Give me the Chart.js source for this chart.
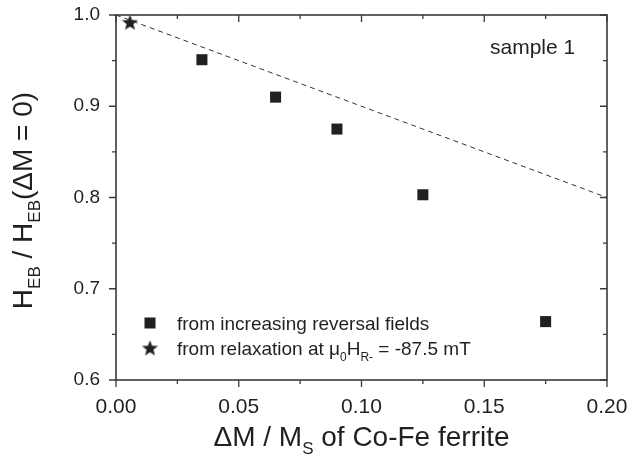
<!DOCTYPE html>
<html>
<head>
<meta charset="utf-8">
<script src="https://cdn.jsdelivr.net/npm/chart.js@4.4.1/dist/chart.umd.min.js"></script>
<style>
  html, body { margin: 0; padding: 0; background: #ffffff; }
  #wrap { width: 629px; height: 466px; }
</style>
</head>
<body>
<div id="wrap"><canvas id="c" width="629" height="466"></canvas></div>
<script>
// Exchange-bias ratio versus relative magnetisation change of the Co-Fe ferrite
const reversalX = [0.035, 0.065, 0.090, 0.125, 0.175];
const reversalY = [0.951, 0.910, 0.875, 0.803, 0.664];
const relaxX = [0.0057];
const relaxY = [0.992];
const guideX = [0.0, 0.20];
const guideY = [1.0, 0.80];
const xTicks = [0.00, 0.05, 0.10, 0.15, 0.20];
const yTicks = [0.6, 0.7, 0.8, 0.9, 1.0];

const INK = '#231f20';
const FONT = '"Liberation Sans", Arial, Helvetica, sans-serif';

// filled five-pointed star used as a point style
function makeStar(size, color) {
  const cv = document.createElement('canvas');
  cv.width = size; cv.height = size;
  const g = cv.getContext('2d');
  const cx = size / 2, cy = size / 2 + size * 0.04;
  const R = size / 2, r = R * 0.42;
  g.beginPath();
  for (let i = 0; i < 10; i++) {
    const a = -Math.PI / 2 + i * Math.PI / 5;
    const rr = i % 2 === 0 ? R : r;
    const px = cx + rr * Math.cos(a), py = cy + rr * Math.sin(a);
    if (i === 0) g.moveTo(px, py); else g.lineTo(px, py);
  }
  g.closePath();
  g.fillStyle = color;
  g.fill();
  return cv;
}
const starImg = makeStar(17, INK);

// draws text made of normal and subscript runs
function richText(ctx, parts, x, y, size, align) {
  const subSize = Math.round(size * 0.62);
  let total = 0;
  parts.forEach(p => {
    ctx.font = (p.sub ? subSize : size) + 'px ' + FONT;
    total += ctx.measureText(p.t).width;
  });
  let cx = align === 'center' ? x - total / 2 : x;
  ctx.textAlign = 'left';
  ctx.textBaseline = 'alphabetic';
  parts.forEach(p => {
    ctx.font = (p.sub ? subSize : size) + 'px ' + FONT;
    ctx.fillText(p.t, cx, p.sub ? y + size * 0.3 : y);
    cx += ctx.measureText(p.t).width;
  });
}

// no extra room for overhanging tick labels; the layout padding handles it
function noOverhang(s) {
  s.paddingTop = 0; s.paddingBottom = 0; s.paddingLeft = 0; s.paddingRight = 0;
}

const framePlugin = {
  id: 'frame',
  afterDraw(chart) {
    const { ctx, chartArea: a, scales } = chart;
    const xs = scales.x, ys = scales.y;
    ctx.save();
    ctx.strokeStyle = '#3a3a3a';
    ctx.lineWidth = 1.6;
    ctx.strokeRect(a.left, a.top, a.right - a.left, a.bottom - a.top);
    ctx.lineWidth = 1.3;
    ctx.beginPath();
    // x ticks: outward on the bottom, inward on the top
    for (let i = 0; i < xTicks.length; i++) {
      const px = xs.getPixelForValue(xTicks[i]);
      ctx.moveTo(px, a.bottom); ctx.lineTo(px, a.bottom + 7);
      ctx.moveTo(px, a.top); ctx.lineTo(px, a.top + 7);
      if (i < xTicks.length - 1) {
        const m = xs.getPixelForValue((xTicks[i] + xTicks[i + 1]) / 2);
        ctx.moveTo(m, a.bottom); ctx.lineTo(m, a.bottom + 4);
        ctx.moveTo(m, a.top); ctx.lineTo(m, a.top + 4);
      }
    }
    // y ticks: outward on the left, inward on the right
    for (let i = 0; i < yTicks.length; i++) {
      const py = ys.getPixelForValue(yTicks[i]);
      ctx.moveTo(a.left, py); ctx.lineTo(a.left - 7, py);
      ctx.moveTo(a.right, py); ctx.lineTo(a.right - 7, py);
      if (i < yTicks.length - 1) {
        const m = ys.getPixelForValue((yTicks[i] + yTicks[i + 1]) / 2);
        ctx.moveTo(a.left, m); ctx.lineTo(a.left - 4, m);
        ctx.moveTo(a.right, m); ctx.lineTo(a.right - 4, m);
      }
    }
    ctx.stroke();

    ctx.fillStyle = INK;
    // axis titles
    richText(ctx, [{ t: '\u0394M / M' }, { t: 'S', sub: true }, { t: ' of Co-Fe ferrite' }],
      (a.left + a.right) / 2, 446, 28, 'center');
    ctx.save();
    ctx.translate(32, (a.top + a.bottom) / 2 + 3);
    ctx.rotate(-Math.PI / 2);
    richText(ctx, [{ t: 'H' }, { t: 'EB', sub: true }, { t: ' / H' }, { t: 'EB', sub: true }, { t: '(\u0394M = 0)' }],
      0, 0, 28, 'center');
    ctx.restore();

    // sample label
    ctx.font = '21px ' + FONT;
    ctx.textAlign = 'left';
    ctx.textBaseline = 'alphabetic';
    ctx.fillText('sample 1', 490, 54);

    // legend
    const lx = 150, ly1 = 323, ly2 = 348;
    ctx.fillRect(lx - 5.5, ly1 - 5.5, 11, 11);
    ctx.drawImage(starImg, lx - 8.5, ly2 - 8.5, 17, 17);
    ctx.font = '19px ' + FONT;
    ctx.fillText('from increasing reversal fields', 177, ly1 + 7);
    richText(ctx, [{ t: 'from relaxation at \u03bc' }, { t: '0', sub: true }, { t: 'H' }, { t: 'R-', sub: true }, { t: ' = -87.5 mT' }],
      177, ly2 + 7, 19, 'left');
    ctx.restore();
  }
};

new Chart(document.getElementById('c'), {
  type: 'scatter',
  data: {
    datasets: [
      {
        label: 'guide',
        data: guideX.map((x, i) => ({ x, y: guideY[i] })),
        showLine: true,
        borderColor: '#333333',
        borderWidth: 1,
        borderDash: [5, 4],
        pointRadius: 0,
        fill: false
      },
      {
        label: 'from increasing reversal fields',
        data: reversalX.map((x, i) => ({ x, y: reversalY[i] })),
        pointStyle: 'rect',
        pointRadius: 7.8,
        backgroundColor: INK,
        borderColor: INK,
        borderWidth: 0
      },
      {
        label: 'from relaxation',
        data: relaxX.map((x, i) => ({ x, y: relaxY[i] })),
        pointStyle: starImg,
        pointRadius: 8
      }
    ]
  },
  options: {
    responsive: false,
    animation: false,
    devicePixelRatio: 1,
    layout: { padding: { left: 0, right: 22, top: 15, bottom: 0 } },
    plugins: { legend: { display: false }, tooltip: { enabled: false } },
    scales: {
      x: {
        type: 'linear', min: 0, max: 0.2,
        afterFit(s) { s.height = 86; noOverhang(s); },
        afterBuildTicks(s) { s.ticks = xTicks.map(v => ({ value: v })); },
        grid: { display: false, drawTicks: false },
        border: { display: false },
        ticks: { padding: 15, color: INK, font: { family: FONT, size: 21 }, callback: v => v.toFixed(2), maxRotation: 0 }
      },
      y: {
        type: 'linear', min: 0.6, max: 1.0,
        afterFit(s) { s.width = 116; noOverhang(s); },
        afterBuildTicks(s) { s.ticks = yTicks.map(v => ({ value: v })); },
        grid: { display: false, drawTicks: false },
        border: { display: false },
        ticks: { padding: 16, color: INK, font: { family: FONT, size: 19 }, callback: v => v.toFixed(1) }
      }
    }
  },
  plugins: [framePlugin]
});
</script>
</body>
</html>
